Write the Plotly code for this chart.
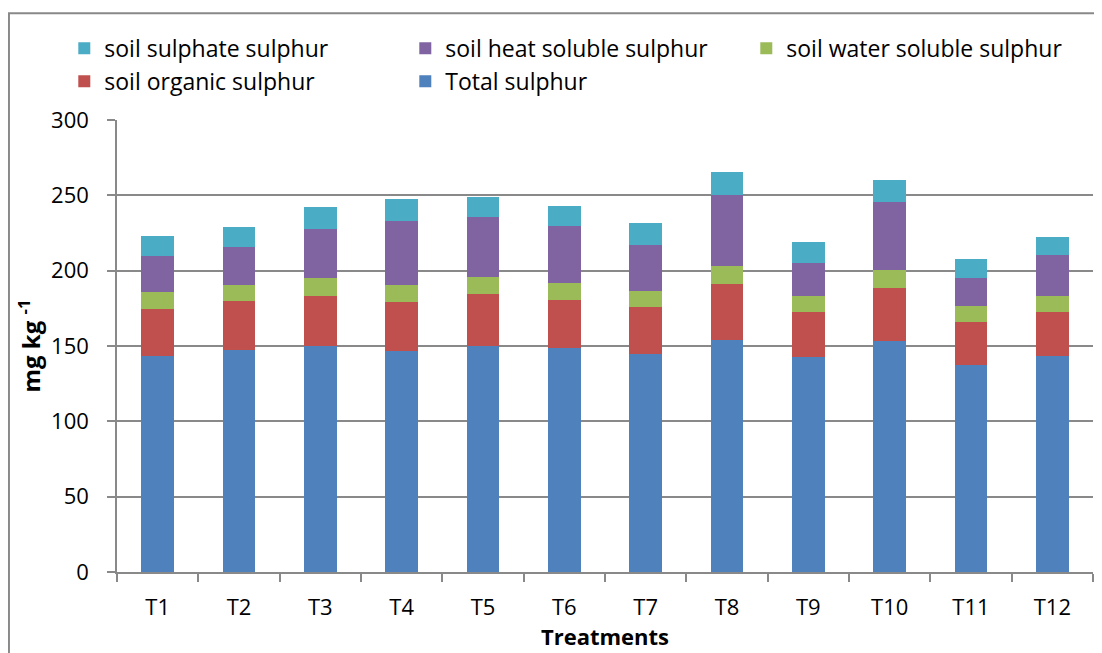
import plotly.graph_objects as go

treatments = ["T1", "T2", "T3", "T4", "T5", "T6", "T7", "T8", "T9", "T10", "T11", "T12"]
total_s = [143.6, 147.6, 150.3, 146.9, 150.3, 148.9, 144.9, 154.0, 142.5, 153.6, 137.6, 143.4]
organic_s = [31.0, 32.3, 33.2, 32.3, 34.2, 31.6, 31.0, 37.4, 30.1, 34.9, 28.3, 29.2]
water_s = [11.1, 10.9, 11.5, 11.1, 11.1, 11.3, 10.9, 12.0, 10.9, 11.8, 10.5, 10.4]
heat_s = [24.1, 24.9, 32.9, 42.7, 40.3, 37.9, 30.3, 46.5, 21.9, 45.3, 19.0, 27.4]
sulphate_s = [13.0, 13.6, 14.4, 14.4, 13.0, 13.1, 14.4, 15.4, 13.3, 14.4, 12.2, 12.0]

series = [
    ("Total sulphur", total_s, "#4F81BD"),
    ("soil organic sulphur", organic_s, "#C0504D"),
    ("soil water soluble sulphur", water_s, "#9BBB59"),
    ("soil heat soluble sulphur", heat_s, "#8064A2"),
    ("soil sulphate sulphur", sulphate_s, "#4BACC6"),
]

font = "'Open Sans', sans-serif"
grey = "#898989"

fig = go.Figure()
for name, vals, col in series:
    fig.add_trace(go.Bar(x=treatments, y=vals, name=name,
                         marker=dict(color=col, line=dict(width=0))))

# page body adds an 8px offset, margins compensate for it
fig.update_layout(
    width=1102, height=653,
    barmode="stack", bargap=0.595,
    plot_bgcolor="white", paper_bgcolor="white",
    margin=dict(l=109, r=17, t=112, b=89, autoexpand=False),
    font=dict(family=font, size=22, color="black"),
    legend=dict(orientation="h", traceorder="reversed",
                x=-0.054, y=1.206, xanchor="left", yanchor="top",
                entrywidth=296, font=dict(size=23), tracegroupgap=0),
)

fig.update_xaxes(
    automargin=False,
    showline=True, linecolor=grey, linewidth=1.5,
    ticks="outside", tickson="boundaries", ticklen=8, tickcolor=grey, tickwidth=1.5,
    ticklabelstandoff=15,
    title=dict(text="<b>Treatments</b>", standoff=6, font=dict(family=font, size=22)),
)
fig.update_yaxes(
    automargin=False,
    range=[0, 300], dtick=50,
    showline=True, linecolor=grey, linewidth=1.5,
    ticks="outside", ticklen=8, tickcolor=grey, tickwidth=1.5,
    showgrid=True, gridcolor=grey, gridwidth=1.5,
    zeroline=False, ticklabelstandoff=14,
    title=dict(text="<b>mg kg <sup>-1</sup></b>", standoff=4, font=dict(family=font, size=24)),
)

fig.add_shape(type="rect", xref="paper", yref="paper",
              x0=-0.1107, x1=1.03, y0=-0.22, y1=1.236,
              line=dict(color=grey, width=2), fillcolor="rgba(0,0,0,0)", layer="below")

fig.write_html("out.html")
